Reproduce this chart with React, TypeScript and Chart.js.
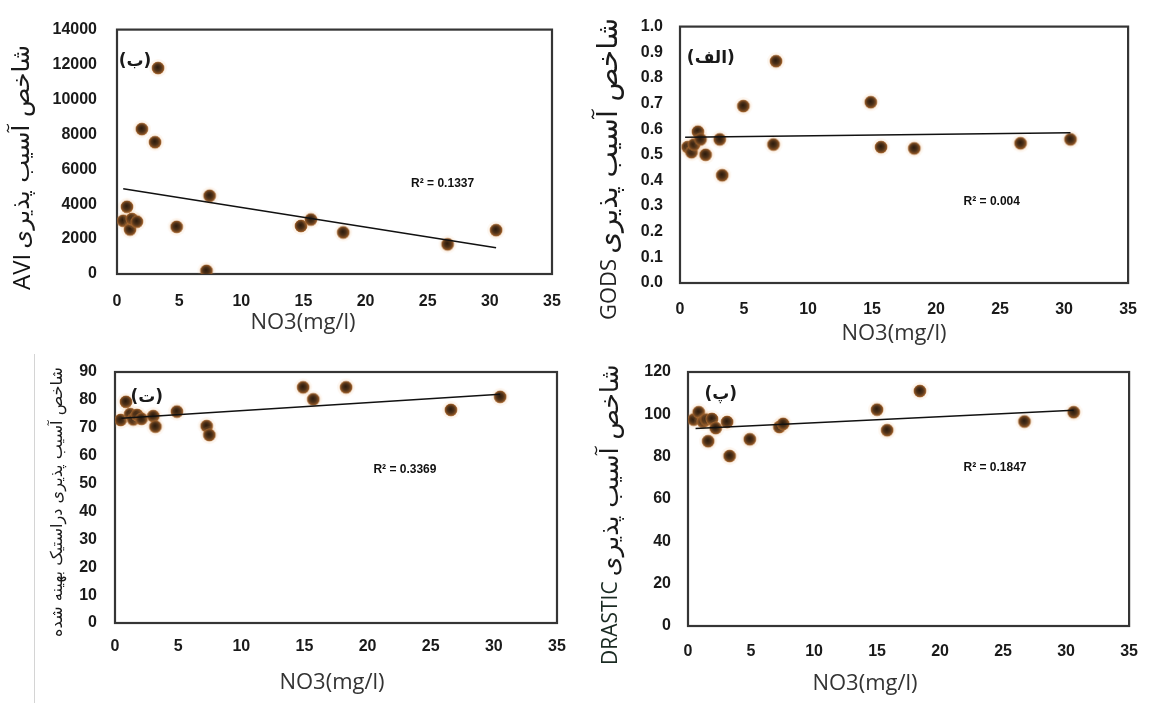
import React, { useEffect, useRef } from "react";
import { Chart, registerables } from "chart.js";

Chart.register(...registerables);

// ---------------- data ----------------
const xTicks = [0, 5, 10, 15, 20, 25, 30, 35];

// (ب) AVI
const aviNO3 = [0.5, 0.8, 1.05, 1.2, 1.6, 2.0, 3.06, 3.3, 4.8, 7.2, 7.45, 14.8, 15.6, 18.2, 26.6, 30.5];
const aviIndex = [3050, 3850, 2550, 3150, 3000, 8300, 7550, 11800, 2700, 180, 4480, 2750, 3120, 2380, 1700, 2510];
const aviTrendNO3 = [0.5, 30.5];
const aviTrendIndex = [4880, 1500];
const aviYTicks = [0, 2000, 4000, 6000, 8000, 10000, 12000, 14000];

// (الف) GODS
const godsNO3 = [0.6, 0.9, 1.1, 1.4, 1.6, 2.0, 3.1, 3.3, 4.95, 7.3, 7.5, 14.9, 15.7, 18.3, 26.6, 30.5];
const godsIndex = [0.53, 0.51, 0.54, 0.59, 0.56, 0.5, 0.56, 0.42, 0.69, 0.54, 0.865, 0.705, 0.53, 0.525, 0.545, 0.56];
const godsTrendNO3 = [0.4, 30.5];
const godsTrendIndex = [0.568, 0.586];
const godsYTicks = [0, 0.1, 0.2, 0.3, 0.4, 0.5, 0.6, 0.7, 0.8, 0.9, 1.0];

// (ت) optimised DRASTIC
const optNO3 = [0.45, 0.87, 1.2, 1.45, 1.75, 2.1, 3.03, 3.2, 4.9, 7.26, 7.47, 14.9, 15.7, 18.3, 26.6, 30.5];
const optIndex = [72.8, 79.3, 74.9, 73.0, 74.6, 73.2, 74.2, 70.4, 75.8, 70.6, 67.4, 84.5, 80.2, 84.5, 76.4, 81.1];
const optTrendNO3 = [0.5, 30.5];
const optTrendIndex = [73.4, 82.0];
const optYTicks = [0, 10, 20, 30, 40, 50, 60, 70, 80, 90];

// (پ) DRASTIC
const drNO3 = [0.45, 0.85, 1.2, 1.45, 1.6, 1.9, 2.2, 3.1, 3.3, 4.9, 7.25, 7.55, 15.0, 15.8, 18.4, 26.7, 30.6];
const drIndex = [97.5, 101, 96.5, 97.5, 87.3, 97.8, 93.5, 96.4, 80.3, 88.2, 94.0, 95.5, 102.2, 92.5, 111, 96.6, 101];
const drTrendNO3 = [0.6, 30.6];
const drTrendIndex = [93.3, 101.9];
const drYTicks = [0, 20, 40, 60, 80, 100, 120];

const xTitleText = "NO3(mg/l)";

// ---------------- layout ----------------
type Panel = {
  left: number; top: number; width: number; height: number;
  area: { left: number; right: number; top: number; bottom: number };
  xs: number[]; ys: number[]; tx: number[]; ty: number[];
  yTicks: number[]; yDec: number;
  yTickPad: number; xTickPad: number;
  tag: string; tagAt: [number, number];
  r2: string; r2At: [number, number];
  yTitle: { latin: string; latinSize: number; latinColor: string; persian: string; persianLen: number; cx: number; bottom: number; gap: number };
  xTitle: [number, number];
};

const panels: Panel[] = [
  {
    left: 0, top: 0, width: 580, height: 340,
    area: { left: 117, right: 552, top: 19.5, bottom: 274 },
    xs: aviNO3, ys: aviIndex, tx: aviTrendNO3, ty: aviTrendIndex,
    yTicks: aviYTicks, yDec: 0, yTickPad: 20, xTickPad: 18,
    tag: "(ب)", tagAt: [1.45, 12150],
    r2: "R² = 0.1337", r2At: [26.2, 5170],
    yTitle: { latin: "AVI", latinSize: 24, latinColor: "#111", persian: "شاخص آسیب پذیری", persianLen: 204, cx: 23, bottom: 290, gap: 5 },
    xTitle: [303, 323],
  },
  {
    left: 580, top: 0, width: 574, height: 352,
    area: { left: 100, right: 560, top: 22, bottom: 283 },
    xs: godsNO3, ys: godsIndex, tx: godsTrendNO3, ty: godsTrendIndex,
    yTicks: godsYTicks, yDec: 1, yTickPad: 17, xTickPad: 17,
    tag: "(الف)", tagAt: [2.41, 0.874],
    r2: "R² = 0.004", r2At: [24.35, 0.318],
    yTitle: { latin: "GODS", latinSize: 22, latinColor: "#222", persian: "شاخص آسیب پذیری", persianLen: 236, cx: 30, bottom: 320, gap: 5 },
    xTitle: [314, 334],
  },
  {
    left: 0, top: 340, width: 580, height: 363,
    area: { left: 115, right: 557, top: 32, bottom: 283 },
    xs: optNO3, ys: optIndex, tx: optTrendNO3, ty: optTrendIndex,
    yTicks: optYTicks, yDec: 0, yTickPad: 18, xTickPad: 14,
    tag: "(ت)", tagAt: [2.51, 81],
    r2: "R² = 0.3369", r2At: [22.96, 54.9],
    yTitle: { latin: "", latinSize: 0, latinColor: "#111", persian: "شاخص آسیب پذیری دراستیک بهینه شده", persianLen: 270, cx: 58, bottom: 297, gap: 0 },
    xTitle: [332, 343],
  },
  {
    left: 580, top: 340, width: 574, height: 363,
    area: { left: 108, right: 562, top: 32, bottom: 286 },
    xs: drNO3, ys: drIndex, tx: drTrendNO3, ty: drTrendIndex,
    yTicks: drYTicks, yDec: 0, yTickPad: 17, xTickPad: 16,
    tag: "(پ)", tagAt: [2.6, 109.1],
    r2: "R² = 0.1847", r2At: [24.36, 74.6],
    yTitle: { latin: "DRASTIC", latinSize: 21, latinColor: "#1a2a22", persian: "شاخص آسیب پذیری", persianLen: 212, cx: 31, bottom: 325, gap: 5 },
    xTitle: [285, 344],
  },
];

const tickFont = { family: "'Liberation Sans', Arial, sans-serif", size: 16, weight: "bold" as const };

function makeBall(): HTMLCanvasElement {
  const d = 20;
  const c = document.createElement("canvas");
  c.width = d; c.height = d;
  const g = c.getContext("2d")!;
  const r = d / 2;
  g.fillStyle = "rgba(235,165,100,0.10)";
  g.beginPath(); g.arc(r, r, 9, 0, Math.PI * 2); g.fill();
  const rr = 6.5;
  const grad = g.createRadialGradient(r - 0.5, r - 1, 0, r, r, rr);
  grad.addColorStop(0, "#2a1a0d");
  grad.addColorStop(0.5, "#4d3017");
  grad.addColorStop(0.8, "#7e4c22");
  grad.addColorStop(0.95, "#a8682f");
  grad.addColorStop(1, "rgba(190,120,60,0.75)");
  g.fillStyle = grad;
  g.beginPath(); g.arc(r, r, rr, 0, Math.PI * 2); g.fill();
  return c;
}

function makeDecor(p: Panel) {
  return {
    id: "decor",
    beforeDatasetsDraw(chart: any) {
      const { ctx, chartArea: a } = chart;
      ctx.save();
      ctx.strokeStyle = "#353535";
      ctx.lineWidth = 2.2;
      ctx.strokeRect(a.left, a.top, a.right - a.left, a.bottom - a.top);
      ctx.restore();
    },
    afterDraw(chart: any) {
      const { ctx, scales } = chart;
      const sx = scales.x, sy = scales.y;
      ctx.save();
      // panel tag
      ctx.fillStyle = "#1a1a1a";
      ctx.font = "bold 17px 'DejaVu Sans'";
      ctx.textAlign = "center";
      ctx.textBaseline = "middle";
      ctx.fillText(p.tag, sx.getPixelForValue(p.tagAt[0]), sy.getPixelForValue(p.tagAt[1]));
      // R2
      ctx.font = "bold 12px 'Liberation Sans'";
      ctx.fillStyle = "#111";
      ctx.fillText(p.r2, sx.getPixelForValue(p.r2At[0]), sy.getPixelForValue(p.r2At[1]));
      // x title
      ctx.font = "22px 'Open Sans'";
      ctx.fillStyle = "#333";
      ctx.fillText(xTitleText, p.xTitle[0], p.xTitle[1]);
      // y title
      const t = p.yTitle;
      ctx.translate(t.cx, t.bottom);
      ctx.rotate(-Math.PI / 2);
      ctx.textAlign = "left";
      ctx.textBaseline = "middle";
      let off = 0;
      if (t.latin) {
        ctx.font = `${t.latinSize}px 'Open Sans'`;
        ctx.fillStyle = t.latinColor;
        ctx.fillText(t.latin, 0, 0);
        off = ctx.measureText(t.latin).width + t.gap;
      }
      ctx.font = "16px 'DejaVu Sans'";
      const w = ctx.measureText(t.persian).width;
      const size = Math.min(30, (16 * t.persianLen) / w);
      ctx.font = `${size}px 'DejaVu Sans'`;
      const w2 = ctx.measureText(t.persian).width;
      ctx.fillStyle = "#1a1a1a";
      ctx.fillText(t.persian, off + (t.persianLen - w2) / 2, 0);
      ctx.restore();
    },
  };
}

function PanelChart({ p }: { p: Panel }) {
  const ref = useRef<HTMLCanvasElement>(null);
  useEffect(() => {
    const canvas = ref.current!;
    const ball = makeBall();
    const chart = new Chart(canvas, {
      type: "scatter",
      data: {
        datasets: [
          {
            data: p.tx.map((x, i) => ({ x, y: p.ty[i] })),
            showLine: true,
            borderColor: "#111",
            borderWidth: 1.5,
            pointRadius: 0,
            order: 0,
          } as any,
          {
            data: p.xs.map((x, i) => ({ x, y: p.ys[i] })),
            pointStyle: ball as any,
            pointRadius: 6,
            order: 1,
          } as any,
        ],
      },
      options: {
        responsive: false,
        animation: false,
        devicePixelRatio: 1,
        layout: { padding: { left: 0, top: p.area.top, right: p.width - p.area.right, bottom: 0 } },
        plugins: { legend: { display: false }, tooltip: { enabled: false } },
        scales: {
          x: {
            type: "linear",
            min: xTicks[0],
            max: xTicks[xTicks.length - 1],
            afterBuildTicks: (s: any) => { s.ticks = xTicks.map((v) => ({ value: v })); },
            afterFit: (s: any) => { s.height = p.height - p.area.bottom; },
            grid: { display: false, drawTicks: false },
            border: { display: false },
            ticks: { padding: p.xTickPad, font: tickFont, color: "#1a1a1a", maxRotation: 0, autoSkip: false },
          },
          y: {
            type: "linear",
            min: p.yTicks[0],
            max: p.yTicks[p.yTicks.length - 1],
            afterBuildTicks: (s: any) => { s.ticks = p.yTicks.map((v) => ({ value: v })); },
            afterFit: (s: any) => { s.width = p.area.left; },
            grid: { display: false, drawTicks: false },
            border: { display: false },
            ticks: {
              padding: p.yTickPad, font: tickFont, color: "#1a1a1a", autoSkip: false,
              callback: (v: any) => Number(v).toFixed(p.yDec),
            },
          },
        },
      },
      plugins: [makeDecor(p) as any],
    });
    return () => chart.destroy();
  }, []);
  return (
    <canvas
      ref={ref}
      width={p.width}
      height={p.height}
      style={{ position: "absolute", left: p.left, top: p.top, width: p.width, height: p.height }}
    />
  );
}

export default function App() {
  return (
    <div style={{ position: "absolute", left: 0, top: 0, width: 1154, height: 703, background: "#fff", overflow: "hidden" }}>
      {panels.map((p, i) => (
        <PanelChart key={i} p={p} />
      ))}
      <div style={{ position: "absolute", left: 34, top: 354, width: 1, height: 349, background: "#d4d4d4" }} />
    </div>
  );
}
